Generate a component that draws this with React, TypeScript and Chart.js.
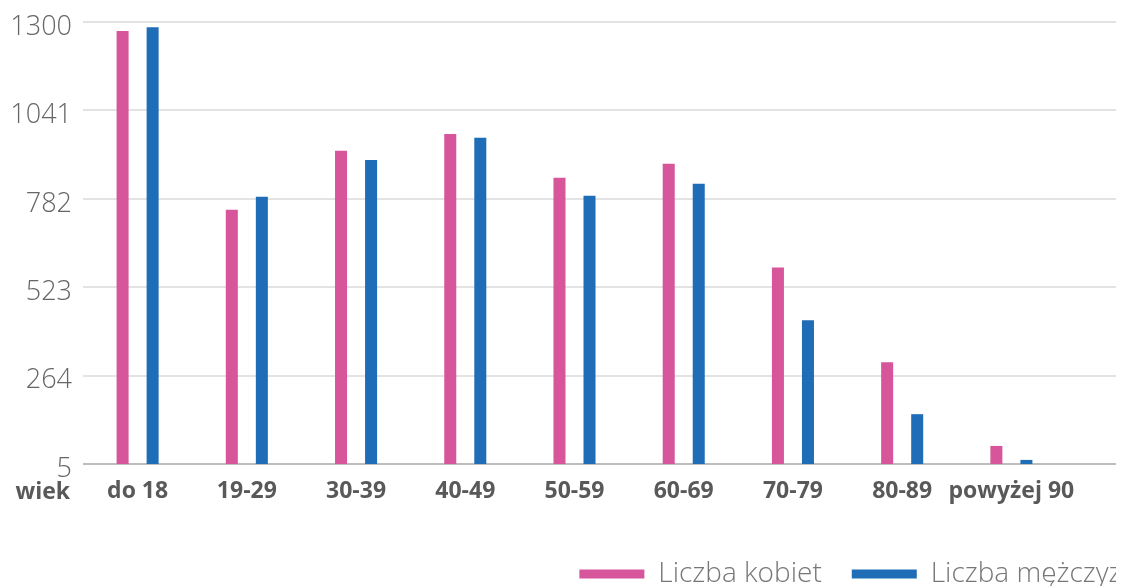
import React, { useEffect, useRef } from "react";
import { Chart, registerables } from "chart.js";

Chart.register(...registerables);

const categories = ["do 18", "19-29", "30-39", "40-49", "50-59", "60-69", "70-79", "80-89", "powyżej 90"];
const women = [1274, 750, 923, 972, 844, 885, 581, 303, 58];
const men = [1285, 788, 896, 961, 791, 826, 426, 151, 17];
const yTicks = [5, 264, 523, 782, 1041, 1300];
const seriesNames = ["Liczba kobiet", "Liczba mężczyzn"];
const axisName = "wiek";

const PINK = "#d6559b";
const BLUE = "#1f6db6";
const GRID = "#e3e3e3";
const BASE = "#bdbdbd";

const CANVAS_W = 1160;
const CANVAS_H = 590;

export default function App() {
  const ref = useRef<HTMLCanvasElement | null>(null);

  useEffect(() => {
    if (!ref.current) return;
    const extraPlugin = {
      id: "extras",
      beforeDatasetsDraw(chart: any) {
        const { ctx, chartArea } = chart;
        const y = chart.scales.y;
        ctx.save();
        ctx.lineWidth = 2;
        y.ticks.forEach((t: any, i: number) => {
          const raw = y.getPixelForValue(t.value);
          const py = Math.round(raw - 1) + 1;
          ctx.strokeStyle = i === 0 ? BASE : GRID;
          ctx.beginPath();
          ctx.moveTo(chartArea.right - 1, py);
          ctx.lineTo(chart.width, py);
          ctx.stroke();
        });
        ctx.restore();
      },
      afterDraw(chart: any) {
        const { ctx, chartArea } = chart;
        ctx.save();
        ctx.font = "bold 23px 'Open Sans'";
        ctx.fillStyle = "#595959";
        ctx.textAlign = "right";
        ctx.textBaseline = "middle";
        ctx.fillText(axisName, chartArea.left - 13, chartArea.bottom + 28);
        ctx.restore();
      },
    };

    const chart = new Chart(ref.current, {
      type: "bar",
      data: {
        labels: categories,
        datasets: [
          { label: seriesNames[0], data: women, backgroundColor: PINK, borderWidth: 0 },
          { label: seriesNames[1], data: men, backgroundColor: BLUE, borderWidth: 0 },
        ],
      },
      options: {
        animation: false,
        responsive: false,
        maintainAspectRatio: false,
        layout: { padding: { top: 2, bottom: 0, left: 0, right: 0 } },
        datasets: { bar: { categoryPercentage: 0.55, barPercentage: 0.4 } },
        plugins: {
          tooltip: { enabled: false },
          legend: {
            position: "bottom",
            align: "end",
            labels: {
              boxWidth: 65,
              boxHeight: 9,
              padding: 30,
              color: "#777",
              font: { family: "'Open Sans'", size: 28, weight: "300" },
            },
          },
        },
        scales: {
          x: {
            grid: { display: false, drawTicks: false },
            border: { display: false },
            ticks: {
              padding: 14,
              color: "#595959",
              font: { family: "'Open Sans'", size: 23, weight: "bold" },
              maxRotation: 0,
              autoSkip: false,
            },
            afterFit(scale: any) {
              scale.height = 66;
            },
          },
          y: {
            min: 5,
            max: 1300,
            afterBuildTicks(scale: any) {
              scale.ticks = yTicks.map((v) => ({ value: v }));
            },
            grid: {
              drawTicks: false,
              lineWidth: 2,
              color: (c: any) => (c.index === 0 ? BASE : GRID),
            },
            border: { display: false },
            ticks: {
              padding: 11,
              labelOffset: 5,
              color: "#666",
              font: { family: "'Open Sans'", size: 27, weight: "300", lineHeight: 0.23 },
              callback: (v: any) => String(v),
            },
            afterFit(scale: any) {
              scale.width = 75;
            },
          },
          yR: {
            position: "right",
            display: true,
            grid: { display: false, drawTicks: false },
            border: { display: false },
            ticks: { display: false },
            afterFit(scale: any) {
              scale.width = CANVAS_W - 1058;
            },
          },
        },
      } as any,
      plugins: [extraPlugin],
    });
    return () => chart.destroy();
  }, []);

  return (
    <div style={{ width: 1116, height: 578, overflow: "hidden" }}>
      <div style={{ width: CANVAS_W, height: CANVAS_H }}>
        <canvas ref={ref} width={CANVAS_W} height={CANVAS_H} style={{ width: CANVAS_W, height: CANVAS_H, display: "block" }} />
      </div>
    </div>
  );
}
